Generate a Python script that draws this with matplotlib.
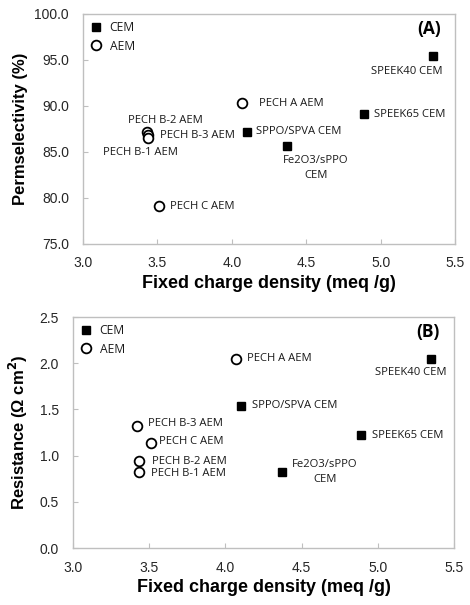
import matplotlib
matplotlib.use("Agg")
import matplotlib.pyplot as plt
from matplotlib.ticker import FormatStrFormatter
from matplotlib.lines import Line2D

# ---- Data (A) permselectivity ----
cem_names_a = ["SPEEK40 CEM", "SPEEK65 CEM", "SPPO/SPVA CEM", "Fe2O3/sPPO\nCEM"]
cem_x_a = [5.35, 4.89, 4.10, 4.37]
cem_y_a = [95.4, 89.1, 87.2, 85.6]
aem_names_a = ["PECH A AEM", "PECH B-2 AEM", "PECH B-3 AEM", "PECH B-1 AEM", "PECH C AEM"]
aem_x_a = [4.07, 3.43, 3.44, 3.44, 3.51]
aem_y_a = [90.3, 87.2, 86.9, 86.5, 79.1]

# ---- Data (B) resistance ----
cem_names_b = ["SPEEK40 CEM", "SPEEK65 CEM", "SPPO/SPVA CEM", "Fe2O3/sPPO\nCEM"]
cem_x_b = [5.35, 4.89, 4.10, 4.37]
cem_y_b = [2.05, 1.22, 1.54, 0.82]
aem_names_b = ["PECH A AEM", "PECH B-3 AEM", "PECH C AEM", "PECH B-2 AEM", "PECH B-1 AEM"]
aem_x_b = [4.07, 3.42, 3.51, 3.43, 3.43]
aem_y_b = [2.05, 1.32, 1.14, 0.94, 0.82]

x_ticks = [3.0, 3.5, 4.0, 4.5, 5.0, 5.5]
y_ticks_a = [75.0, 80.0, 85.0, 90.0, 95.0, 100.0]
y_ticks_b = [0.0, 0.5, 1.0, 1.5, 2.0, 2.5]

# label offsets in points (dx, dy, ha, va)
off_cem_a = [(-19, -7, "center", "top"), (7, 0, "left", "center"),
             (7, 0, "left", "center"), (21, -6, "center", "top")]
off_aem_a = [(12, 0, "left", "center"), (13, 8, "center", "center"),
             (8, -1, "left", "center"), (-6, -10, "center", "center"),
             (8, 0, "left", "center")]
off_cem_b = [(-15, -6, "center", "top"), (8, 0, "left", "center"),
             (8, 0, "left", "center"), (31, 0, "center", "center")]
off_aem_b = [(8, 0, "left", "center"), (8, 2, "left", "center"),
             (6, 1, "left", "center"), (10, 0, "left", "center"),
             (9, -1, "left", "center")]

fig = plt.figure(figsize=(4.70, 6.05), dpi=100)
ax_a = fig.add_axes([0.1766, 0.5967, 0.7915, 0.3802])
ax_b = fig.add_axes([0.1553, 0.0942, 0.8106, 0.3818])

tick_font = dict(family="Liberation Sans", size=10)
ann_font = dict(family="Open Sans", size=8.1, color="#1a1a1a")
spine_col = "#bfbfbf"


def style(ax, yticks, ylim, yfmt):
    ax.set_xlim(3.0, 5.5)
    ax.set_ylim(*ylim)
    ax.set_xticks(x_ticks)
    ax.set_yticks(yticks)
    ax.xaxis.set_major_formatter(FormatStrFormatter("%.1f"))
    ax.yaxis.set_major_formatter(FormatStrFormatter(yfmt))
    for s in ax.spines.values():
        s.set_color(spine_col)
        s.set_linewidth(1.0)
    ax.tick_params(direction="in", length=3.5, width=0.8, color=spine_col,
                   labelcolor="#262626", labelsize=tick_font["size"])
    ax.tick_params(axis="x", pad=9)
    ax.tick_params(axis="y", pad=10)
    for lab in ax.get_xticklabels() + ax.get_yticklabels():
        lab.set_family(tick_font["family"])
    ax.set_xlabel("Fixed charge density (meq /g)", labelpad=3,
                  family="Liberation Sans", size=13, weight="bold")


def draw(ax, cx, cy, cn, co, axx, ayy, an, ao):
    ax.plot(cx, cy, linestyle="none", marker="s", markersize=6.2,
            color="black", zorder=3)
    ax.plot(axx, ayy, linestyle="none", marker="o", markersize=7,
            markerfacecolor="white", markeredgecolor="black",
            markeredgewidth=1.3, zorder=3)
    for x, y, n, (dx, dy, ha, va) in zip(cx, cy, cn, co):
        ax.annotate(n, (x, y), xytext=(dx, dy), textcoords="offset points",
                    ha=ha, va=va, multialignment="center", linespacing=1.5,
                    **ann_font)
    for x, y, n, (dx, dy, ha, va) in zip(axx, ayy, an, ao):
        ax.annotate(n, (x, y), xytext=(dx, dy), textcoords="offset points",
                    ha=ha, va=va, **ann_font)
    handles = [Line2D([], [], linestyle="none", marker="s", markersize=6.2,
                      color="black"),
               Line2D([], [], linestyle="none", marker="o", markersize=7,
                      markerfacecolor="white", markeredgecolor="black",
                      markeredgewidth=1.3)]
    leg = ax.legend(handles, ["CEM", "AEM"], loc="upper left",
                    frameon=False, handlelength=1.0, handletextpad=0.6,
                    borderaxespad=0.2, labelspacing=0.45,
                    prop=dict(family="Open Sans", size=8.7))
    for t in leg.get_texts():
        t.set_color("#1a1a1a")


style(ax_a, y_ticks_a, (75, 100), "%.1f")
draw(ax_a, cem_x_a, cem_y_a, cem_names_a, off_cem_a,
     aem_x_a, aem_y_a, aem_names_a, off_aem_a)
ax_a.set_ylabel("Permselectivity (%)", labelpad=5,
                family="Liberation Sans", size=12, weight="bold")
ax_a.text(0.962, 0.935, "(A)", transform=ax_a.transAxes, ha="right", va="center",
          family="Open Sans", size=12.5, weight="bold")

style(ax_b, y_ticks_b, (0, 2.5), "%.1f")
draw(ax_b, cem_x_b, cem_y_b, cem_names_b, off_cem_b,
     aem_x_b, aem_y_b, aem_names_b, off_aem_b)
ax_b.set_ylabel("Resistance (\u03a9 cm$^\\mathbf{2}$)", labelpad=7,
                family="Liberation Sans", size=12, weight="bold")
ax_b.text(0.962, 0.935, "(B)", transform=ax_b.transAxes, ha="right", va="center",
          family="Open Sans", size=12.5, weight="bold")

fig.savefig("out.png", dpi=100)
